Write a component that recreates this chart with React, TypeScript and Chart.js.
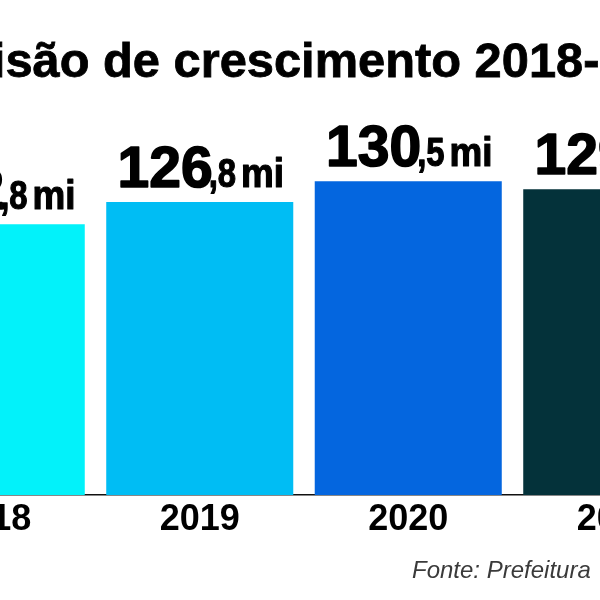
import React, { useEffect, useRef } from "react";
import { Chart, registerables } from "chart.js";
Chart.register(...registerables);

const TITLE = "Previsão de crescimento 2018-2021";
const SOURCE = "Fonte: Prefeitura";
const years = ["2018", "2019", "2020", "2021"];
const values = [122.8, 126.8, 130.5, 129.1];
const barColors = ["#02F2FA", "#00BDF4", "#0466DF", "#04323A"];
const UNIT = "mi";

const FONT = '"Liberation Sans", Arial, Helvetica, sans-serif';
const CANVAS_W = 834;
const CANVAS_H = 600;
const OFFSET_X = -113;

function drawScaled(
  ctx: CanvasRenderingContext2D,
  text: string,
  x: number,
  y: number,
  sx: number,
  stroke: number
) {
  ctx.save();
  ctx.translate(x, y);
  ctx.scale(sx, 1);
  ctx.fillText(text, 0, 0);
  if (stroke > 0) {
    ctx.lineWidth = stroke;
    ctx.strokeStyle = ctx.fillStyle as string;
    ctx.lineJoin = "round";
    ctx.strokeText(text, 0, 0);
  }
  ctx.restore();
}

const labelPlugin = {
  id: "valueLabels",
  afterDatasetsDraw(chart: any) {
    const ctx: CanvasRenderingContext2D = chart.ctx;
    const meta = chart.getDatasetMeta(0);
    meta.data.forEach((bar: any, i: number) => {
      const [ip, dp] = values[i].toFixed(1).split(".");
      const big = ip;
      const small = "," + dp;
      ctx.save();
      ctx.fillStyle = "#000";
      ctx.textBaseline = "alphabetic";
      ctx.textAlign = "left";
      const sxBig = 1.0;
      const sxSmall = 0.82;
      const sxUnit = 0.92;
      ctx.font = `bold 57px ${FONT}`;
      const wBig = ctx.measureText(big).width * sxBig;
      ctx.font = `bold 40px ${FONT}`;
      const wSmall = ctx.measureText(small).width * sxSmall - 4;
      const wUnit = ctx.measureText(UNIT).width * sxUnit;
      const gap = 5;
      const total = wBig + wSmall + gap + wUnit;
      let x = bar.x - total / 2 + 1;
      const y = bar.y - 15;
      ctx.font = `bold 57px ${FONT}`;
      drawScaled(ctx, big, x, y, sxBig, 1.6);
      x += wBig;
      ctx.font = `bold 40px ${FONT}`;
      drawScaled(ctx, small, x - 4, y, sxSmall, 1.2);
      x += wSmall + gap;
      drawScaled(ctx, UNIT, x, y, sxUnit, 1.2);
      ctx.restore();
    });
  },
  afterDraw(chart: any) {
    const ctx: CanvasRenderingContext2D = chart.ctx;
    ctx.save();
    ctx.fillStyle = "#000";
    ctx.strokeStyle = "#000";
    ctx.textAlign = "center";
    ctx.textBaseline = "alphabetic";
    ctx.font = `bold 48.8px ${FONT}`;
    const tx = chart.width / 2 - 7;
    ctx.fillText(TITLE, tx, 77);
    ctx.lineWidth = 0.8;
    ctx.strokeText(TITLE, tx, 77);
    ctx.textAlign = "left";
    ctx.fillStyle = "#3a3a3a";
    ctx.font = `italic 24px ${FONT}`;
    ctx.fillText(SOURCE, 412 - OFFSET_X, 578);
    ctx.restore();
  },
};

export default function App() {
  const ref = useRef<HTMLCanvasElement | null>(null);
  useEffect(() => {
    if (!ref.current) return;
    const chart = new Chart(ref.current, {
      type: "bar",
      data: {
        labels: years,
        datasets: [
          {
            data: values,
            backgroundColor: barColors,
            borderWidth: 0,
            barPercentage: 0.897,
            categoryPercentage: 1,
          },
        ],
      },
      options: {
        responsive: false,
        animation: false,
        devicePixelRatio: 1,
        layout: { padding: { top: 125, left: 0, right: 0, bottom: 0 } },
        plugins: { legend: { display: false }, tooltip: { enabled: false }, title: { display: false } },
        scales: {
          x: {
            type: "category",
            grid: { display: true, color: "rgba(0,0,0,0)", drawTicks: false },
            border: { display: true, color: "#111", width: 1.5 },
            ticks: { color: "#000", padding: 3, font: { family: FONT, size: 36, weight: "bold" } },
            afterFit: (s: any) => {
              s.height = 105;
            },
          },
          y: { display: false, min: 74.3, max: 140.6 },
        },
      },
      plugins: [labelPlugin],
    });
    return () => chart.destroy();
  }, []);
  return (
    <div
      style={{
        position: "fixed",
        left: 0,
        top: 0,
        width: 600,
        height: 600,
        overflow: "hidden",
        background: "#fff",
      }}
    >
      <canvas
        ref={ref}
        width={CANVAS_W}
        height={CANVAS_H}
        style={{ position: "absolute", left: OFFSET_X, top: 0, width: CANVAS_W, height: CANVAS_H }}
      />
    </div>
  );
}
